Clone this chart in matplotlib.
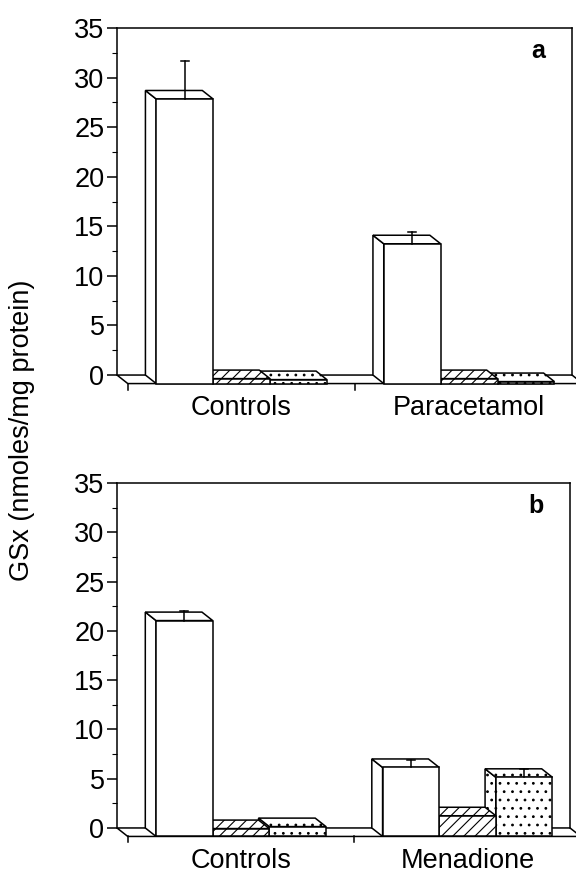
"""
GSx content of cells: controls vs paracetamol (a) and controls vs menadione (b).
Pseudo-3D bar chart, redrawn from the scanned figure.
"""
import matplotlib
matplotlib.use('Agg')
import matplotlib.pyplot as plt
from matplotlib.patches import Polygon, Rectangle

plt.rcParams.update({
    'font.family': ['Liberation Sans', 'DejaVu Sans'],
    'hatch.linewidth': 0.8,
})

# ── data ───────────────────────────────────────────────────────────────────
groups_a = ['Controls', 'Paracetamol']
groups_b = ['Controls', 'Menadione']
# three bars per group: open, hatched, dotted
open_a    = [28.7, 14.1]
hatched_a = [0.5, 0.5]
dotted_a  = [0.4, 0.2]
open_err_a   = [3.8, 1.2]
dotted_err_a = [0.0, 0.0]

open_b    = [21.9, 7.0]
hatched_b = [0.8, 2.1]
dotted_b  = [1.0, 6.0]
open_err_b   = [1.0, 0.8]
dotted_err_b = [0.0, 0.8]

yticks = [0, 5, 10, 15, 20, 25, 30, 35]

# ── geometry of the fake 3D look ──────────────────────────────────────────
DX, DY = 0.19, 0.86     # depth offset of the front plane (x units, y units)
BAR_W = 1.0
GROUP_START = [0.5, 4.5]
XMAX = 8.0
LW = 1.1
HATCHES = [None, '///', '..']


def bar3d(ax, x0, h, hatch, z):
    kw = dict(facecolor='white', edgecolor='black', linewidth=LW,
              hatch=hatch, clip_on=False, zorder=z)
    side = Polygon([(x0, 0), (x0, h), (x0 + DX, h - DY), (x0 + DX, -DY)], **kw)
    top = Polygon([(x0, h), (x0 + BAR_W, h), (x0 + BAR_W + DX, h - DY),
                   (x0 + DX, h - DY)], **kw)
    front = Rectangle((x0 + DX, -DY), BAR_W, h, **kw)
    for p in (side, top, front):
        ax.add_patch(p)


def errbar(ax, x0, h, err, z):
    if err <= 0:
        return
    cx = x0 + DX + BAR_W / 2
    y0, y1 = h - DY, h - DY + err
    ax.plot([cx, cx], [y0, y1], color='black', lw=LW, zorder=z, clip_on=False)
    ax.plot([cx - 0.07, cx + 0.07], [y1, y1], color='black', lw=LW,
            zorder=z, clip_on=False)


def panel(ax, groups, opens, hatcheds, dotteds, open_err, dotted_err, letter):
    ax.set_xlim(0, XMAX)
    ax.set_ylim(0, 35)

    # floor
    floor = Polygon([(0, 0), (XMAX, 0), (XMAX + DX, -DY), (DX, -DY)],
                    facecolor='white', edgecolor='black', linewidth=LW,
                    clip_on=False, zorder=2)
    ax.add_patch(floor)

    for g, name in enumerate(groups):
        start = GROUP_START[g]
        heights = [opens[g], hatcheds[g], dotteds[g]]
        errs = [open_err[g], 0.0, dotted_err[g]]
        # right to left so the nearer faces overlap correctly
        for i in (2, 1, 0):
            x0 = start + i * BAR_W
            z = 10 + 3 * (3 - i)
            bar3d(ax, x0, heights[i], HATCHES[i], z)
            errbar(ax, x0, heights[i], errs[i], z + 1)
        ax.text(start + 1.5 * BAR_W + DX, -DY - 1.2, name, ha='center',
                va='top', fontsize=19.5)

    # small ticks under the front floor edge
    for xt in (0, 4, 8):
        ax.plot([xt + DX, xt + DX], [-DY, -DY - 0.6], color='black', lw=LW,
                clip_on=False, zorder=3)

    ax.spines['bottom'].set_visible(False)
    for s in ('left', 'top', 'right'):
        ax.spines[s].set_linewidth(LW)
    ax.set_xticks([])
    ax.set_yticks(yticks)
    ax.set_yticks([y + 2.5 for y in yticks[:-1]], minor=True)
    ax.tick_params(axis='y', which='major', direction='out', length=7,
                   width=LW, labelsize=19.5, pad=2)
    ax.tick_params(axis='y', which='minor', direction='out', length=3.5,
                   width=0.8)
    ax.text(7.4, 32.7, letter, ha='center', va='center', fontsize=18,
            fontweight='bold')


fig = plt.figure(figsize=(5.76, 8.81), dpi=100)
ax_a = fig.add_axes([0.2031, 0.5743, 0.7900, 0.3939])
ax_b = fig.add_axes([0.2031, 0.0602, 0.7865, 0.3916])

panel(ax_a, groups_a, open_a, hatched_a, dotted_a, open_err_a, dotted_err_a, 'a')
panel(ax_b, groups_b, open_b, hatched_b, dotted_b, open_err_b, dotted_err_b, 'b')

fig.text(0.038, 0.512, 'GSx (nmoles/mg protein)', rotation=90, ha='center',
         va='center', fontsize=19.5)

fig.savefig('out.png', dpi=100, facecolor='white')
